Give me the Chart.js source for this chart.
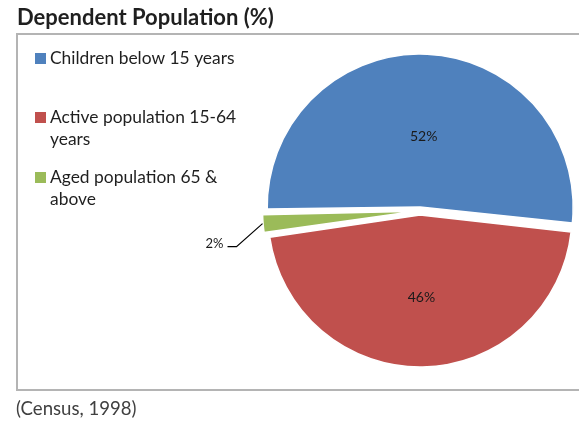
<!DOCTYPE html>
<html><head><meta charset="utf-8">
<script src="https://cdn.jsdelivr.net/npm/chart.js@4"></script>
<style>html,body{margin:0;padding:0;background:#fff;}#wrap{position:relative;width:579px;height:422px;}</style>
</head><body><div id="wrap"><canvas id="c" width="579" height="422"></canvas></div>
<script>
const chartTitle = "Dependent Population (%)";
const sourceNote = "(Census, 1998)";
const categories = ["Children below 15 years", "Active population 15-64 years", "Aged population 65 & above"];
const shares = [52, 46, 2];
const sliceColors = ["#4F81BD", "#C0504D", "#9BBB59"];
const outsideLabel = [false, false, true];

const FONT = "Lato, 'Open Sans', sans-serif";

function wrapText(ctx, text, maxW) {
  const words = text.split(' ');
  const lines = [];
  let cur = '';
  for (const w of words) {
    const t = cur ? cur + ' ' + w : w;
    if (ctx.measureText(t).width > maxW && cur) { lines.push(cur); cur = w; }
    else cur = t;
  }
  if (cur) lines.push(cur);
  return lines;
}

const decor = {
  id: 'decor',
  beforeDraw(chart) {
    const ctx = chart.ctx;
    ctx.save();
    ctx.fillStyle = '#fff';
    ctx.fillRect(0, 0, chart.width, chart.height);
    ctx.strokeStyle = '#b4b4b4';
    ctx.lineWidth = 2;
    ctx.strokeRect(17, 34, 620, 356);
    ctx.fillStyle = '#1f1f1f';
    ctx.font = "bold 20px " + FONT;
    const tw = ctx.measureText(chartTitle).width;
    const ts = Math.min(22, 20 * 261 / tw);
    ctx.font = "bold " + ts.toFixed(1) + "px " + FONT;
    ctx.textBaseline = 'alphabetic';
    ctx.textAlign = 'left';
    ctx.fillText(chartTitle, 17, 25);
    ctx.fillStyle = '#404040';
    ctx.font = "18.6px " + FONT;
    ctx.fillText(sourceNote, 16, 415);
    ctx.restore();
  },
  afterDatasetsDraw(chart) {
    const ctx = chart.ctx;
    const meta = chart.getDatasetMeta(0);
    const ds = chart.data.datasets[0];
    const total = ds.data.reduce((a, b) => a + b, 0);
    ctx.save();
    ctx.font = "14px " + FONT;
    ctx.fillStyle = '#1a1a1a';
    meta.data.forEach((arc, i) => {
      const p = arc.getProps(['x', 'y', 'startAngle', 'endAngle', 'outerRadius'], true);
      const mid = (p.startAngle + p.endAngle) / 2;
      const shift = ds.offset[i] / 4;
      const outer = p.outerRadius + shift;
      const txt = Math.round(ds.data[i] / total * 100) + '%';
      if (!outsideLabel[i]) {
        const rr = outer * 0.5 + shift;
        ctx.textAlign = 'center';
        ctx.textBaseline = 'middle';
        ctx.fillText(txt, p.x + Math.cos(mid) * rr, p.y + Math.sin(mid) * rr + 6);
      } else {
        const ex = p.x + Math.cos(mid) * (outer + shift);
        const ey = p.y + Math.sin(mid) * (outer + shift);
        const bx = ex - 26, by = ey + 23;
        const lx = bx - 9;
        ctx.strokeStyle = '#000';
        ctx.lineWidth = 1.2;
        ctx.beginPath();
        ctx.moveTo(ex, ey); ctx.lineTo(bx, by); ctx.lineTo(lx, by);
        ctx.stroke();
        ctx.textAlign = 'right';
        ctx.textBaseline = 'alphabetic';
        ctx.font = "13px " + FONT;
        ctx.fillText(txt, lx - 4, by + 1);
      }
    });
    ctx.font = "17.4px " + FONT;
    ctx.textAlign = 'left';
    ctx.textBaseline = 'alphabetic';
    let y = 64;
    chart.data.labels.forEach((lab, i) => {
      ctx.fillStyle = ds.backgroundColor[i];
      ctx.fillRect(35, y - 11, 11, 11);
      ctx.fillStyle = '#1f1f1f';
      const lines = wrapText(ctx, lab, 200);
      lines.forEach((ln, j) => ctx.fillText(ln, 50, y + j * 22));
      y += i === 0 ? 59 : 60;
    });
    ctx.restore();
  }
};

new Chart(document.getElementById('c'), {
  type: 'pie',
  data: {
    labels: categories,
    datasets: [{
      data: shares,
      backgroundColor: sliceColors,
      borderColor: '#ffffff',
      borderWidth: 1.5,
      offset: [16, 16, 18]
    }]
  },
  options: {
    responsive: false,
    animation: false,
    rotation: -91,
    radius: 149,
    layout: { padding: { left: 264, right: 3, top: 55, bottom: 55 } },
    plugins: { legend: { display: false }, title: { display: false }, tooltip: { enabled: false } },
    events: []
  },
  plugins: [decor]
});
</script></body></html>
